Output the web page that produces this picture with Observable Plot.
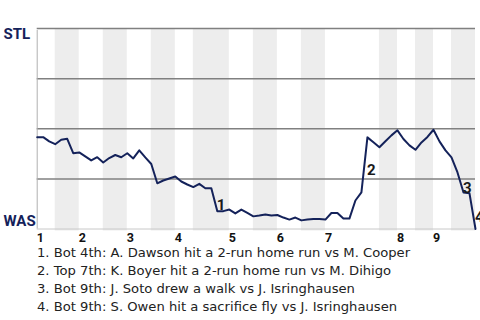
<!DOCTYPE html>
<html>
<head>
<meta charset="utf-8">
<script src="https://cdn.jsdelivr.net/npm/d3@7"></script>
<script src="https://cdn.jsdelivr.net/npm/@observablehq/plot@0.6"></script>
<style>
  body { margin: 0; background: #fff; font-family: Roboto, "Liberation Sans", sans-serif; }
  #chart svg { display: block; }
  #notes { padding-left: 37px; margin-top: -0.5px; font-family: "DejaVu Sans", sans-serif; font-size: 13.15px; line-height: 18px; color: #222; }
</style>
</head>
<body>
<div id="chart"></div>
<div id="notes"></div>
<script>
// STL win probability after each play (0 = WAS wins, 1 = STL wins)
const winProb = [
  0.458, 0.458, 0.437, 0.423, 0.445, 0.450, 0.378, 0.382, 0.362, 0.342,
  0.358, 0.332, 0.354, 0.369, 0.358, 0.378, 0.352, 0.392, 0.357, 0.324,
  0.228, 0.242, 0.252, 0.262, 0.237, 0.222, 0.209, 0.225, 0.203, 0.203,
  0.088, 0.089, 0.097, 0.078, 0.097, 0.080, 0.063, 0.067, 0.072, 0.067,
  0.070, 0.057, 0.047, 0.057, 0.043, 0.047, 0.050, 0.050, 0.047, 0.080,
  0.080, 0.052, 0.052, 0.142, 0.183, 0.457, 0.433, 0.408, 0.438, 0.467,
  0.492, 0.449, 0.417, 0.395, 0.432, 0.459, 0.495, 0.437, 0.392, 0.357,
  0.282, 0.182, 0.178, 0.000
];
// play index at which each half inning starts (and the final end)
const halfInningBounds = [0, 3, 7, 11, 15, 19, 23, 26, 32, 36, 40, 44, 48, 57, 60, 63, 66, 69, 73];
const inningLabels = ["1", "2", "3", "4", "5", "6", "7", "8", "9"];
const eventPlays = [30, 55, 71, 73];
const eventLabels = ["1", "2", "3", "4"];
const eventNotes = [
  "1. Bot 4th: A. Dawson hit a 2-run home run vs M. Cooper",
  "2. Top 7th: K. Boyer hit a 2-run home run vs M. Dihigo",
  "3. Bot 9th: J. Soto drew a walk vs J. Isringhausen",
  "4. Bot 9th: S. Owen hit a sacrifice fly vs J. Isringhausen"
];
const teamTop = "STL";
const teamBottom = "WAS";

const points = winProb.map((p, i) => ({play: i, p}));
const bands = [];
for (let i = 1; i < halfInningBounds.length - 1; i += 2) {
  bands.push({x1: halfInningBounds[i], x2: halfInningBounds[i + 1]});
}
const innings = inningLabels.map((t, k) => ({play: halfInningBounds[2 * k], t}));
const events = eventPlays.map((e, k) => ({
  play: e, t: eventLabels[k], p: (winProb[e - 1] + winProb[e]) / 2
}));

const navy = "#14225A";
const chart = Plot.plot({
  width: 480,
  height: 244,
  marginLeft: 36.7,
  marginRight: 5,
  marginTop: 28,
  marginBottom: 15.5,
  style: {fontFamily: "Roboto, sans-serif", background: "#fff"},
  x: {domain: [0, 73], axis: null},
  y: {domain: [0, 1], axis: null},
  marks: [
    Plot.rect(bands, {x1: "x1", x2: "x2", y1: 0, y2: 1, fill: "#ededed", insetBottom: -2}),
    Plot.ruleY([0.25, 0.5, 0.75, 1], {stroke: "#808080", strokeWidth: 1.5}),
    Plot.ruleY([0], {stroke: "#c8c8c8", strokeWidth: 1}),
    Plot.ruleX([0], {stroke: "#b0b0b0", strokeWidth: 1, y1: 0, y2: 1, insetBottom: -2}),
    Plot.line(points, {x: "play", y: "p", stroke: navy, strokeWidth: 2, strokeLinejoin: "round"}),
    Plot.text(events, {x: "play", y: "p", text: "t", textAnchor: "start", lineAnchor: "top",
      fontSize: 15, fontWeight: "bold", fill: "#1a1a1a", dx: -0.5}),
    Plot.text(innings, {x: "play", y: 0, text: "t", textAnchor: "start", lineAnchor: "top",
      fontSize: 12.5, fontWeight: "bold", fill: "#111", dy: 3.8, dx: -0.5}),
    Plot.text([teamTop], {x: 0, y: 1, text: d => d, textAnchor: "start", lineAnchor: "top",
      dx: -33.7, fontSize: 15, fontWeight: "bold", fill: navy}),
    Plot.text([teamBottom], {x: 0, y: 0, text: d => d, textAnchor: "start", lineAnchor: "bottom",
      dx: -33.7, dy: -3.5, fontSize: 15, fontWeight: "bold", fill: navy})
  ]
});
document.getElementById("chart").appendChild(chart);
const notes = document.getElementById("notes");
eventNotes.forEach(s => {
  const d = document.createElement("div");
  d.textContent = s;
  notes.appendChild(d);
});
</script>
</body>
</html>
